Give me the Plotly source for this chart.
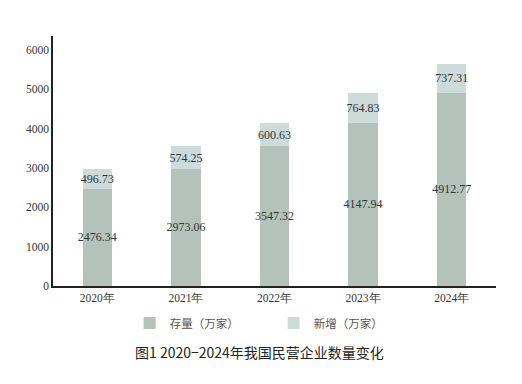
import plotly.graph_objects as go

years = ["2020年", "2021年", "2022年", "2023年", "2024年"]
stock = [2476.34, 2973.06, 3547.32, 4147.94, 4912.77]
new = [496.73, 574.25, 600.63, 764.83, 737.31]
tick_vals = [0, 1000, 2000, 3000, 4000, 5000, 6000]

serif = "Liberation Serif, Times New Roman, serif"
sans = "Noto Sans CJK SC, sans-serif"
txt_color = "#333333"

fig = go.Figure()
fig.add_trace(go.Bar(
    x=years, y=stock, name="存量（万家）",
    marker=dict(color="#b3c3bc", line=dict(width=0)),
    text=[f"{v:.2f}" for v in stock], textposition="inside",
    insidetextanchor="middle", textangle=0, constraintext="none",
    cliponaxis=False,
    textfont=dict(family=serif, size=12, color=txt_color),
))
fig.add_trace(go.Bar(
    x=years, y=new, name="新增（万家）",
    marker=dict(color="#cddcdb", line=dict(width=0)),
    text=[f"{v:.2f}" for v in new], textposition="inside",
    insidetextanchor="middle", textangle=0, constraintext="none",
    cliponaxis=False,
    textfont=dict(family=serif, size=12, color=txt_color),
))

fig.update_layout(
    barmode="stack",
    bargap=0.67,
    width=514, height=376,
    margin=dict(l=45, r=26, t=28, b=98, autoexpand=False),
    plot_bgcolor="white", paper_bgcolor="white",
    font=dict(family=serif, size=11, color=txt_color),
    xaxis=dict(
        showline=True, linecolor="#222222", linewidth=1.5,
        ticks="", showgrid=False,
        tickfont=dict(family=serif, size=11.5, color=txt_color),
    ),
    yaxis=dict(
        range=[0, 6350], tickvals=tick_vals,
        showline=True, linecolor="#222222", linewidth=1.5,
        ticks="", showgrid=False, zeroline=False,
        tickfont=dict(family=serif, size=11.5, color=txt_color),
    ),
    legend=dict(
        orientation="h", x=0.173, xanchor="left", y=-0.148, yanchor="middle",
        font=dict(family=sans, size=11.5, color="#555555"),
        entrywidth=99, entrywidthmode="pixels",
        traceorder="normal",
    ),
    annotations=[dict(
        text="图1 2020−2024年我国民营企业数量变化",
        xref="paper", yref="paper", x=0.467, y=-0.264,
        xanchor="center", yanchor="middle", showarrow=False,
        font=dict(family=sans, size=14, color="#222222"),
    )],
)

fig.write_html("out.html")
